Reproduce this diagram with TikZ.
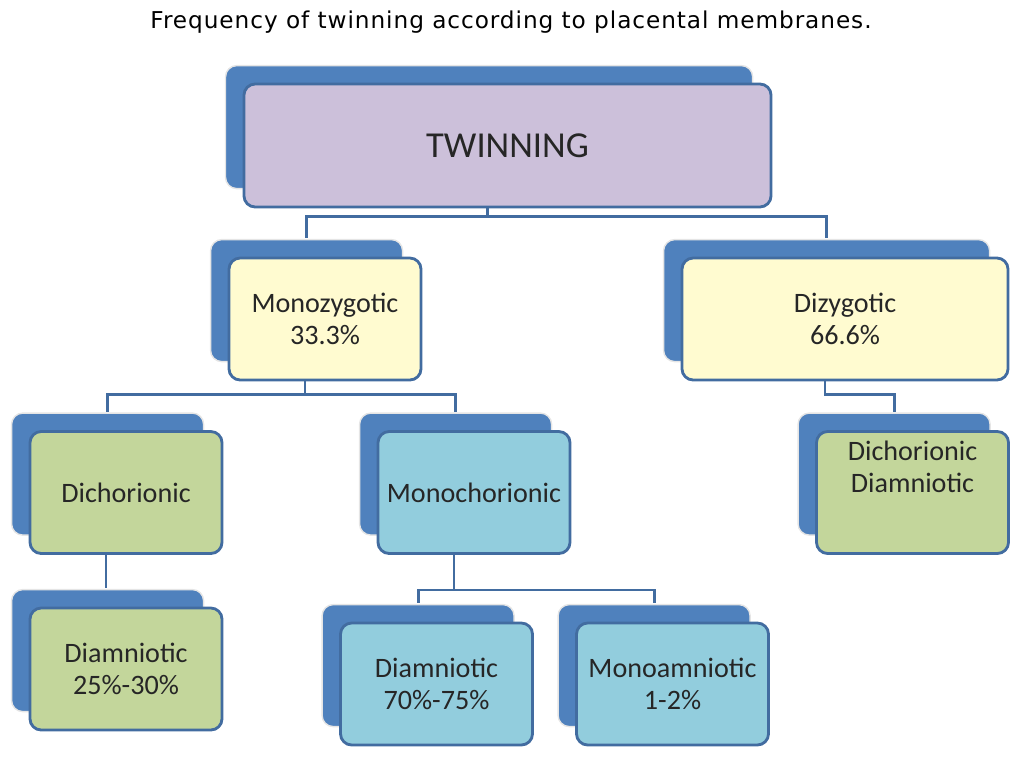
\documentclass[tikz,border=0pt]{standalone}
\usepackage{fontspec}
\setmainfont{Carlito}
\newfontfamily\titlefont[LetterSpace=4]{DejaVu Sans}
\usetikzlibrary{shadows}
\definecolor{BackBlue}{RGB}{79, 129, 189}
\definecolor{EdgeBlue}{RGB}{66, 108, 160}
\definecolor{Lavender}{RGB}{204, 192, 218}
\definecolor{PaleYellow}{RGB}{255, 251, 208}
\definecolor{LeafGreen}{RGB}{195, 214, 155}
\definecolor{SkyAqua}{RGB}{146, 205, 221}

\begin{document}
\begin{tikzpicture}[
        x=0.025cm, y=-0.025cm,
        card/.style={draw=EdgeBlue, line width=2pt, rounded corners=8pt, minimum width=4.8cm, minimum height=3.05cm,
            align=center, text=black!85, font=\fontsize{20}{23}\selectfont,
            copy shadow={shadow xshift=-0.46cm, shadow yshift=0.46cm, fill=BackBlue, draw=black!10, line width=1pt}},
        link/.style={draw=EdgeBlue, line width=2pt}
    ]
        \useasboundingbox (0,0) rectangle (1025,757);

        \node[font=\titlefont\fontsize{16.5}{19}\selectfont] (title) at (511,22)
            {Frequency of twinning according to placental membranes.};

        % top level
        \node[card, fill=Lavender, minimum width=13.175cm, minimum height=3.075cm,
            font=\fontsize{26}{30}\selectfont] (twin) at (507.5,145.5) {TWINNING};

        % zygosity
        \node[card, fill=PaleYellow] (mono) at (325,319) {Monozygotic\\33.3\%};
        \node[card, fill=PaleYellow, minimum width=8.15cm] (diz) at (845,319) {Dizygotic\\66.6\%};

        % chorionicity
        \node[card, fill=LeafGreen] (dich) at (126,492.5) {Dichorionic};
        \node[card, fill=SkyAqua] (monoch) at (474,492.5) {Monochorionic};
        \node[card, fill=LeafGreen, text depth=1.3cm] (dzdich) at (912.5,492.5) {Dichorionic\\Diamniotic};

        % amnionicity
        \node[card, fill=LeafGreen] (diamA) at (126,669) {Diamniotic\\25\%-30\%};
        \node[card, fill=SkyAqua] (diamB) at (436.5,684) {Diamniotic\\70\%-75\%};
        \node[card, fill=SkyAqua] (monoam) at (672.5,684) {Monoamniotic\\1-2\%};

        % connectors
        \draw[link] ([xshift=-0.5cm]twin.south) -- ++(0,8) -| ([xshift=-0.46cm, yshift=0.46cm]mono.north);
        \draw[link] ([xshift=-0.5cm]twin.south) -- ++(0,8) -| ([xshift=-0.46cm, yshift=0.46cm]diz.north);
        \draw[link] ([xshift=-0.5cm]mono.south) -- ++(0,13) -| ([xshift=-0.46cm, yshift=0.46cm]dich.north);
        \draw[link] ([xshift=-0.5cm]mono.south) -- ++(0,13) -| ([xshift=-0.46cm, yshift=0.46cm]monoch.north);
        \draw[link] ([xshift=-0.5cm]diz.south) -- ++(0,13) -| ([xshift=-0.46cm, yshift=0.46cm]dzdich.north);
        \draw[link] ([xshift=-0.5cm]dich.south) -- ([xshift=-0.5cm, yshift=0.46cm]diamA.north);
        \draw[link] ([xshift=-0.5cm]monoch.south) -- ++(0,35) -| ([xshift=-0.46cm, yshift=0.46cm]diamB.north);
        \draw[link] ([xshift=-0.5cm]monoch.south) -- ++(0,35) -| ([xshift=-0.46cm, yshift=0.46cm]monoam.north);
    \end{tikzpicture}
\end{document}
